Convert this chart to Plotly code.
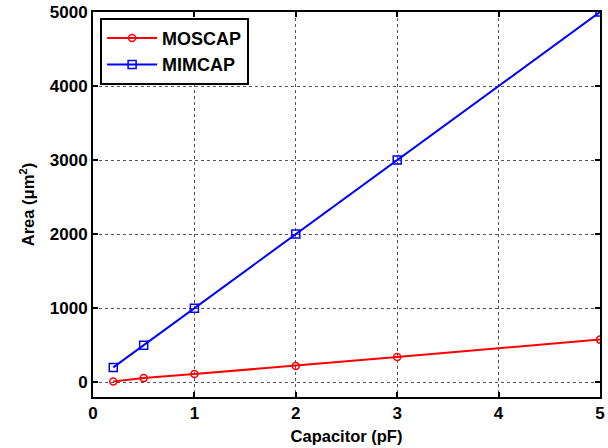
import plotly.graph_objects as go

cap_pf = [0.2, 0.5, 1, 2, 3, 5]
moscap_area = [10, 55, 110, 220, 340, 575]
mimcap_area = [200, 500, 1000, 2000, 3000, 5000]
x_ticks = [0, 1, 2, 3, 4, 5]
y_ticks = [0, 1000, 2000, 3000, 4000, 5000]

FONT = "Liberation Sans"

fig = go.Figure()
fig.add_trace(go.Scatter(x=cap_pf, y=moscap_area, name="MOSCAP", mode="lines+markers",
                         line=dict(color="#ff0000", width=2),
                         marker=dict(symbol="circle-open", size=7, color="#ff0000", line=dict(width=1.5))))
fig.add_trace(go.Scatter(x=cap_pf, y=mimcap_area, name="MIMCAP", mode="lines+markers",
                         line=dict(color="#0000ff", width=2),
                         marker=dict(symbol="square-open", size=8, color="#0000ff", line=dict(width=1.5))))

axis_common = dict(showline=True, linecolor="black", linewidth=2, mirror="ticks",
                   ticks="inside", ticklen=5, tickwidth=2, tickcolor="black",
                   showgrid=True, gridcolor="#555555", griddash="dot", gridwidth=1,
                   zeroline=False, ticklabeloverflow="allow",
                   tickfont=dict(family=FONT, size=17, color="black", weight="bold"))

fig.update_xaxes(range=[0, 5], tickvals=x_ticks,
                 title=dict(text="Capacitor (pF)", standoff=8,
                            font=dict(family=FONT, size=16.5, color="black", weight="bold")),
                 **axis_common)
fig.update_yaxes(range=[-200, 5000], tickvals=y_ticks,
                 title=dict(text="Area (μm<sup>2</sup>)", standoff=11,
                            font=dict(family=FONT, size=16.5, color="black", weight="bold")),
                 **axis_common)

fig.update_layout(
    width=608, height=448,
    margin=dict(l=93, r=3, t=9, b=51),
    paper_bgcolor="white", plot_bgcolor="white",
    showlegend=True,
    legend=dict(x=0.014, y=0.985, xanchor="left", yanchor="top",
                bordercolor="black", borderwidth=2, bgcolor="white",
                font=dict(family=FONT, size=18, color="black", weight="bold"),
                tracegroupgap=0, itemwidth=50),
)

fig.write_html("out.html")
